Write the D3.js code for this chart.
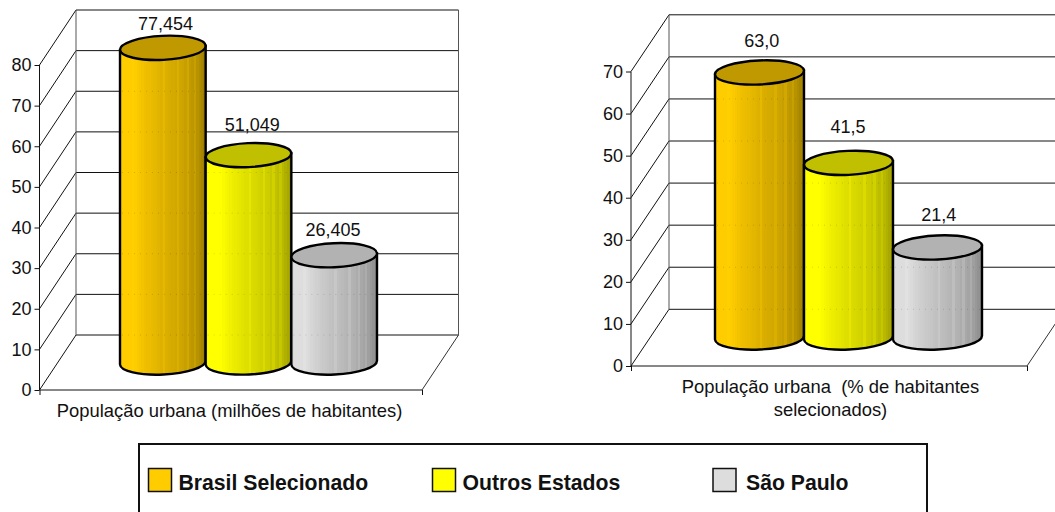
<!DOCTYPE html>
<html><head><meta charset="utf-8"><script src="https://cdn.jsdelivr.net/npm/d3@7"></script>
<style>html,body{margin:0;padding:0;background:#fff;overflow:hidden}svg{display:block}text{font-family:"Liberation Sans",Arial,sans-serif;fill:#111}</style></head>
<body><svg id="c" width="1055" height="512"></svg>
<script>
const seriesNames = ["Brasil Selecionado","Outros Estados","São Paulo"];
const leftValues = [77.454,51.049,26.405];
const leftLabels = ["77,454","51,049","26,405"];
const leftTicks = [0,10,20,30,40,50,60,70,80];
const rightValues = [63.0,41.5,21.4];
const rightLabels = ["63,0","41,5","21,4"];
const rightTicks = [0,10,20,30,40,50,60,70];
const leftTitle = ["População urbana (milhões de habitantes)"];
const rightTitle = ["População urbana  (% de habitantes","selecionados)"];
const baseColors = ["#FFCC00","#FFFF00","#DDDDDD"];
const topColors = ["#C09900","#C0C000","#B2B2B2"];
const legendX = [148.5,432.5,713];
const legendTextX = [178.5,462.5,746];
const bandShade = [.98,1,1,1,1,1.02,1,.985,.97,.955,.94,.93,.92,.91,.9,.89,.88,.87,.9,.86,.85,.84,.83,.82,.86,.81,.8,.78,.82,.76,.74,.78,.72,.69,.66,.62];

const svg = d3.select("#c");
const defs = svg.append("defs");
baseColors.forEach((c,i)=>{
  const g = defs.append("linearGradient").attr("id","cyl"+i);
  const n = bandShade.length;
  bandShade.forEach((s,k)=>{
    const col = d3.rgb(c);
    const cc = d3.rgb(Math.min(255,col.r*s),Math.min(255,col.g*s),Math.min(255,col.b*s)).formatHex();
    g.append("stop").attr("offset",k/n).attr("stop-color",cc);
    g.append("stop").attr("offset",(k+1)/n).attr("stop-color",cc);
  });
});

function chart(o){
  const g = svg.append("g");
  const y = d3.scaleLinear().domain(o.domain).range([o.y0,o.yTop]);
  const dx=o.dx, dy=o.dy;
  const bx=o.x0+dx, bxr=o.x1+dx;
  const ticks=o.ticks, top=o.domain[1];
  g.selectAll(".grid").data(ticks).join("line")
    .attr("x1",bx).attr("x2",bxr).attr("y1",d=>y(d)+dy).attr("y2",d=>y(d)+dy).attr("stroke","#111");
  g.selectAll(".side").data(ticks).join("line")
    .attr("x1",o.x0).attr("x2",bx).attr("y1",d=>y(d)).attr("y2",d=>y(d)+dy).attr("stroke","#111");
  [bx,bxr].forEach(x=>g.append("line").attr("x1",x).attr("x2",x).attr("y1",y(0)+dy).attr("y2",y(top)+dy).attr("stroke","#555"));
  g.append("line").attr("x1",o.x1).attr("x2",bxr).attr("y1",y(0)).attr("y2",y(0)+dy).attr("stroke","#333");
  const ax = d3.axisLeft(y).tickValues(o.ticks).tickSize(5).tickPadding(3).tickFormat(d3.format("d"));
  const ag = g.append("g").attr("transform",`translate(${o.x0},0)`).call(ax);
  ag.selectAll("text").attr("font-size",o.fs).attr("fill","#111").attr("font-family",'"Liberation Sans"');
  ag.selectAll("line,path").attr("stroke","#111");
  ag.select("path").attr("d",`M0,${y(top)}V${y(0)}`);
  const xs = d3.scaleLinear().domain([0,1]).range([o.x0,o.x1]);
  const bg = g.append("g").attr("transform",`translate(0,${y(0)})`).call(d3.axisBottom(xs).tickValues([0,1]).tickSize(5).tickFormat(""));
  bg.selectAll("line,path").attr("stroke","#111");
  bg.select("path").attr("d",`M${o.x0},0H${o.x1}`);
  const band = d3.scaleBand().domain(d3.range(o.values.length)).range([o.barX0,o.barX1]);
  const yb = v => y(v) + o.midDy;
  const rx = band.bandwidth()/2, ry=o.ry, tilt=o.tilt;
  const rot = -Math.atan2(tilt,rx)*180/Math.PI;
  o.values.forEach((v,i)=>{
    const cx=band(i)+rx, t=yb(v), b=yb(0);
    const c=g.append("g");
    c.append("path").attr("d",`M${cx-rx},${t+tilt}L${cx+rx},${t-tilt}L${cx+rx},${b-tilt}A${rx},${ry} ${rot} 0 1 ${cx-rx},${b+tilt}Z`)
      .attr("fill",`url(#cyl${i})`).attr("stroke","#000").attr("stroke-width",2.4);
    c.selectAll("line").data(o.ticks.filter(d=>y(d)+dy>t+ry&&y(d)+dy<b)).join("line")
      .attr("x1",cx-rx+2).attr("x2",cx+rx-2).attr("y1",d=>y(d)+dy).attr("y2",d=>y(d)+dy)
      .attr("stroke","#000").attr("stroke-opacity",.14).attr("stroke-dasharray","1 5");
    c.append("ellipse").attr("cx",cx).attr("cy",t).attr("rx",rx).attr("ry",ry)
      .attr("transform",`rotate(${rot} ${cx} ${t})`)
      .attr("fill",topColors[i]).attr("stroke","#000").attr("stroke-width",2.4);
    g.append("text").attr("x",cx+o.labDx[i]).attr("y",t+o.labDy[i]).attr("text-anchor","middle").attr("font-size",o.fs).text(o.labels[i]);
  });
  o.title.forEach((s,i)=>g.append("text").attr("x",o.titleX).attr("y",o.titleY+i*o.titleLh).attr("text-anchor","middle")
    .attr("font-size",o.titleFs).style("white-space","pre").text(s));
}
chart({x0:39.5,x1:422,dx:36.5,dy:-55,y0:390,yTop:65,domain:[0,80],ticks:leftTicks,values:leftValues,labels:leftLabels,
  barX0:120,barX1:377,midDy:-27.5,ry:12,tilt:2,fs:18,titleFs:18.4,labDx:[2.7,3.8,-1.2],labDy:[-17.5,-23.7,-19.3],title:leftTitle,titleX:229.5,titleY:416.5,titleLh:23});
chart({x0:631,x1:1027,dx:38,dy:-56.7,y0:366,yTop:71.5,domain:[0,70],ticks:rightTicks,values:rightValues,labels:rightLabels,
  barX0:715,barX1:982,midDy:-28.5,ry:12,tilt:2,fs:18,titleFs:18.4,labDx:[2.2,-0.5,1.3],labDy:[-25.3,-29.6,-26.6],title:rightTitle,titleX:830.5,titleY:392.5,titleLh:23.3});
const lg=svg.append("g");
lg.append("rect").attr("x",139).attr("y",444).attr("width",788).attr("height",90).attr("fill","#fff").attr("stroke","#111").attr("stroke-width",2);
seriesNames.forEach((s,i)=>{
  lg.append("rect").attr("x",legendX[i]).attr("y",468.5).attr("width",23).attr("height",23).attr("fill",baseColors[i]).attr("stroke","#111").attr("stroke-width",1.5);
  lg.append("text").attr("x",legendTextX[i]).attr("y",490).attr("font-size",21.2).attr("font-weight","bold").text(s);
});
</script></body></html>
